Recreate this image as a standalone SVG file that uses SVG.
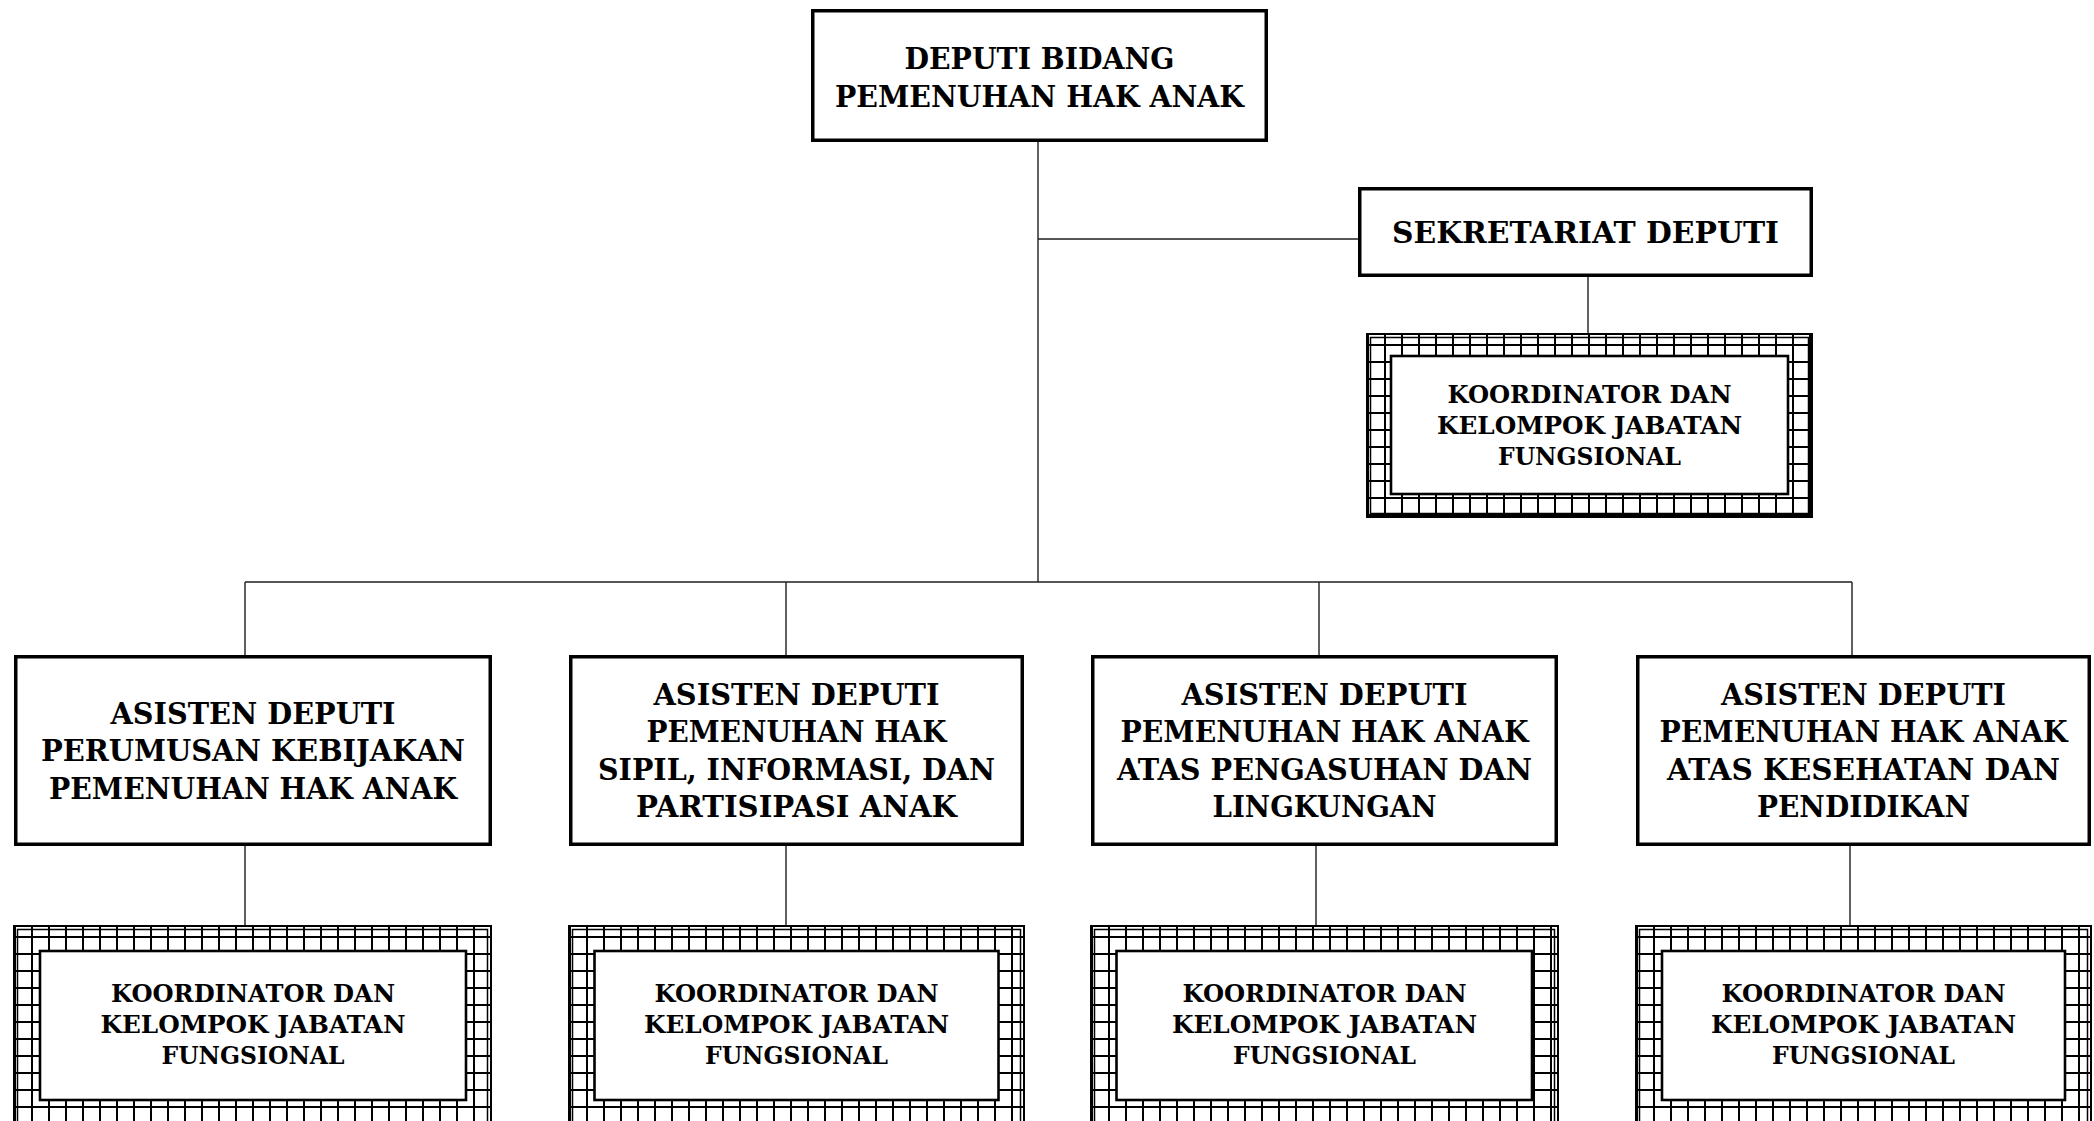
<svg xmlns="http://www.w3.org/2000/svg" width="2094" height="1121" viewBox="0 0 2094 1121">
<style>
.box{fill:#fff;stroke:#000;stroke-width:3.5}
.fr{fill:none;stroke:#000;stroke-width:2}
.fr2{fill:none;stroke:#000;stroke-width:1.5}
.inner{fill:#fff;stroke:#000;stroke-width:2.6}
.ln{fill:none;stroke:#1e1e1e;stroke-width:1.4}
text{font-family:"DejaVu Serif","Liberation Serif",serif;font-weight:bold;fill:#000;text-anchor:middle}
.t1{font-size:30px}
.t2{font-size:24px}
</style>
<defs>
<pattern id="grid" patternUnits="userSpaceOnUse" width="17" height="17">
<path d="M1 0V17M0 11H17" stroke="#000" stroke-width="2" fill="none"/>
</pattern>
</defs>
<rect width="2094" height="1121" fill="#fff"/>
<g id="connectors">
<path class="ln" d="M1038 142V582"/>
<path class="ln" d="M1038 239H1358"/>
<path class="ln" d="M1588 277V334"/>
<path class="ln" d="M245 582H1852"/>
<path class="ln" d="M245 582V656M786 582V656M1319 582V656M1852 582V656"/>
<path class="ln" d="M245 846V926M786 846V926M1316 846V926M1850 846V926"/>
</g>
<g id="deputi">
<rect class="box" x="812.75" y="10.75" width="453.5" height="129.5"/>
<text class="t1" x="1039.5" y="69" textLength="270" lengthAdjust="spacingAndGlyphs">DEPUTI BIDANG</text>
<text class="t1" x="1039.5" y="106.5" textLength="409" lengthAdjust="spacingAndGlyphs">PEMENUHAN HAK ANAK</text>
</g>
<g id="sekretariat">
<rect class="box" x="1359.75" y="188.75" width="451.5" height="86.5"/>
<text class="t1" x="1585.5" y="243" textLength="387" lengthAdjust="spacingAndGlyphs">SEKRETARIAT DEPUTI</text>
</g>
<g id="kjf-sek">
<g transform="translate(1367,334)"><rect width="445" height="183" fill="url(#grid)"/></g>
<rect class="fr" x="1367" y="334" width="445" height="183"/>
<rect class="fr2" x="1370.5" y="337.5" width="438" height="176"/>
<rect class="inner" x="1391" y="356" width="397" height="138"/>
<text class="t2" x="1589.5" y="403" textLength="284" lengthAdjust="spacingAndGlyphs">KOORDINATOR DAN</text>
<text class="t2" x="1589.5" y="434" textLength="305" lengthAdjust="spacingAndGlyphs">KELOMPOK JABATAN</text>
<text class="t2" x="1589.5" y="465" textLength="183" lengthAdjust="spacingAndGlyphs">FUNGSIONAL</text>
</g>
<g id="asdep1">
<rect class="box" x="15.75" y="656.75" width="474.5" height="187.5"/>
<text class="t1" x="253" y="723.5" textLength="285" lengthAdjust="spacingAndGlyphs">ASISTEN DEPUTI</text>
<text class="t1" x="253" y="761" textLength="424" lengthAdjust="spacingAndGlyphs">PERUMUSAN KEBIJAKAN</text>
<text class="t1" x="253" y="798.5" textLength="408" lengthAdjust="spacingAndGlyphs">PEMENUHAN HAK ANAK</text>
</g>
<g id="asdep2">
<rect class="box" x="570.75" y="656.75" width="451.5" height="187.5"/>
<text class="t1" x="796.5" y="704.75" textLength="286" lengthAdjust="spacingAndGlyphs">ASISTEN DEPUTI</text>
<text class="t1" x="796.5" y="742.25" textLength="300" lengthAdjust="spacingAndGlyphs">PEMENUHAN HAK</text>
<text class="t1" x="796.5" y="779.75" textLength="397" lengthAdjust="spacingAndGlyphs">SIPIL, INFORMASI, DAN</text>
<text class="t1" x="796.5" y="817.25" textLength="321" lengthAdjust="spacingAndGlyphs">PARTISIPASI ANAK</text>
</g>
<g id="asdep3">
<rect class="box" x="1092.75" y="656.75" width="463.5" height="187.5"/>
<text class="t1" x="1324.5" y="704.75" textLength="286" lengthAdjust="spacingAndGlyphs">ASISTEN DEPUTI</text>
<text class="t1" x="1324.5" y="742.25" textLength="408" lengthAdjust="spacingAndGlyphs">PEMENUHAN HAK ANAK</text>
<text class="t1" x="1324.5" y="779.75" textLength="415" lengthAdjust="spacingAndGlyphs">ATAS PENGASUHAN DAN</text>
<text class="t1" x="1324.5" y="817.25" textLength="224" lengthAdjust="spacingAndGlyphs">LINGKUNGAN</text>
</g>
<g id="asdep4">
<rect class="box" x="1637.75" y="656.75" width="451.5" height="187.5"/>
<text class="t1" x="1863.5" y="704.75" textLength="285" lengthAdjust="spacingAndGlyphs">ASISTEN DEPUTI</text>
<text class="t1" x="1863.5" y="742.25" textLength="408" lengthAdjust="spacingAndGlyphs">PEMENUHAN HAK ANAK</text>
<text class="t1" x="1863.5" y="779.75" textLength="393" lengthAdjust="spacingAndGlyphs">ATAS KESEHATAN DAN</text>
<text class="t1" x="1863.5" y="817.25" textLength="213" lengthAdjust="spacingAndGlyphs">PENDIDIKAN</text>
</g>
<g id="kjf-1">
<g transform="translate(14,926)"><rect width="477" height="210" fill="url(#grid)"/></g>
<rect class="fr" x="14" y="926" width="477" height="210"/>
<rect class="fr2" x="17.5" y="929.5" width="470" height="203"/>
<rect class="inner" x="40" y="951" width="426" height="149"/>
<text class="t2" x="253" y="1002" textLength="284" lengthAdjust="spacingAndGlyphs">KOORDINATOR DAN</text>
<text class="t2" x="253" y="1033" textLength="305" lengthAdjust="spacingAndGlyphs">KELOMPOK JABATAN</text>
<text class="t2" x="253" y="1064" textLength="183" lengthAdjust="spacingAndGlyphs">FUNGSIONAL</text>
</g>
<g id="kjf-2">
<g transform="translate(569,926)"><rect width="455" height="210" fill="url(#grid)"/></g>
<rect class="fr" x="569" y="926" width="455" height="210"/>
<rect class="fr2" x="572.5" y="929.5" width="448" height="203"/>
<rect class="inner" x="594.5" y="951" width="404" height="149"/>
<text class="t2" x="796.5" y="1002" textLength="284" lengthAdjust="spacingAndGlyphs">KOORDINATOR DAN</text>
<text class="t2" x="796.5" y="1033" textLength="305" lengthAdjust="spacingAndGlyphs">KELOMPOK JABATAN</text>
<text class="t2" x="796.5" y="1064" textLength="183" lengthAdjust="spacingAndGlyphs">FUNGSIONAL</text>
</g>
<g id="kjf-3">
<g transform="translate(1091,926)"><rect width="467" height="210" fill="url(#grid)"/></g>
<rect class="fr" x="1091" y="926" width="467" height="210"/>
<rect class="fr2" x="1094.5" y="929.5" width="460" height="203"/>
<rect class="inner" x="1116.5" y="951" width="415.5" height="149"/>
<text class="t2" x="1324.5" y="1002" textLength="284" lengthAdjust="spacingAndGlyphs">KOORDINATOR DAN</text>
<text class="t2" x="1324.5" y="1033" textLength="305" lengthAdjust="spacingAndGlyphs">KELOMPOK JABATAN</text>
<text class="t2" x="1324.5" y="1064" textLength="183" lengthAdjust="spacingAndGlyphs">FUNGSIONAL</text>
</g>
<g id="kjf-4">
<g transform="translate(1636,926)"><rect width="455" height="210" fill="url(#grid)"/></g>
<rect class="fr" x="1636" y="926" width="455" height="210"/>
<rect class="fr2" x="1639.5" y="929.5" width="448" height="203"/>
<rect class="inner" x="1662" y="951" width="403" height="149"/>
<text class="t2" x="1863.5" y="1002" textLength="284" lengthAdjust="spacingAndGlyphs">KOORDINATOR DAN</text>
<text class="t2" x="1863.5" y="1033" textLength="305" lengthAdjust="spacingAndGlyphs">KELOMPOK JABATAN</text>
<text class="t2" x="1863.5" y="1064" textLength="183" lengthAdjust="spacingAndGlyphs">FUNGSIONAL</text>
</g>
</svg>
